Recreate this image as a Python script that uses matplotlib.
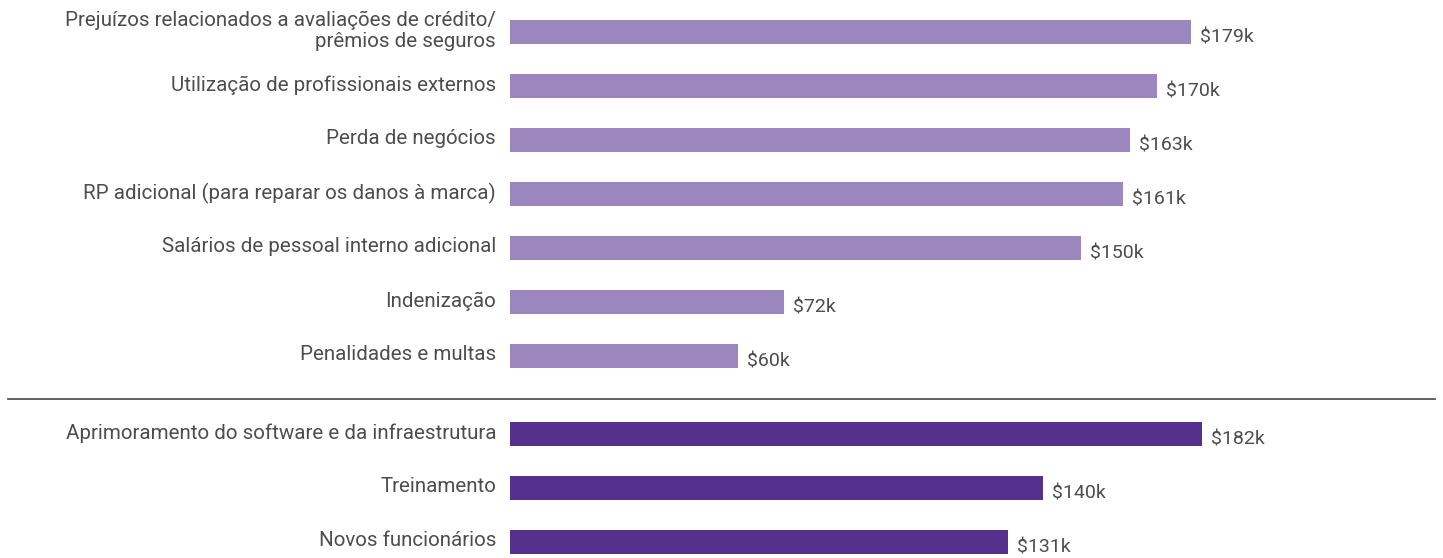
import matplotlib
matplotlib.use("Agg")
import matplotlib.pyplot as plt

categories_top = [
    "Prejuízos relacionados a avaliações de crédito/\nprêmios de seguros",
    "Utilização de profissionais externos",
    "Perda de negócios",
    "RP adicional (para reparar os danos à marca)",
    "Salários de pessoal interno adicional",
    "Indenização",
    "Penalidades e multas",
]
values_top = [179, 170, 163, 161, 150, 72, 60]

categories_bottom = [
    "Aprimoramento do software e da infraestrutura",
    "Treinamento",
    "Novos funcionários",
]
values_bottom = [182, 140, 131]

light = "#9b86be"
dark = "#55308d"
txt = "#4d4d4d"

W, H = 1443, 558
fig = plt.figure(figsize=(W / 100, H / 100), dpi=100)
x0, x1 = 510, 1435
ax = fig.add_axes([x0 / W, 0, (x1 - x0) / W, 1])
px_per_k = (1191 - 510) / 179.0
ax.set_xlim(0, (x1 - x0) / px_per_k)
ax.set_ylim(H, 0)
ax.axis("off")

font = "Roboto"
fs_cat = 14.8
fs_val = 14

y_top = [32 + 54 * i for i in range(len(values_top))]
y_bot = [434 + 54 * i for i in range(len(values_bottom))]

ax.barh(y_top, values_top, height=24, color=light, left=0)
ax.barh(y_bot, values_bottom, height=24, color=dark, left=0)

def fmt(v):
    return f"${v}k"

for y, v, c in list(zip(y_top, values_top, categories_top)) + list(zip(y_bot, values_bottom, categories_bottom)):
    ax.text(v + 9 / px_per_k, y + 5, fmt(v), ha="left", va="center",
            fontsize=fs_val, color=txt, family=font)
    fig.text((x0 - 14) / W, 1 - (y - 1) / H, c, ha="right", va="center",
             fontsize=fs_cat, color=txt, family=font,
             linespacing=1.15, multialignment="right")

fig.add_artist(plt.Line2D([8 / W, 1435 / W], [1 - 399 / H, 1 - 399 / H],
                          color="#555555", linewidth=1.3))

fig.savefig("out.png", dpi=100, facecolor="white")
